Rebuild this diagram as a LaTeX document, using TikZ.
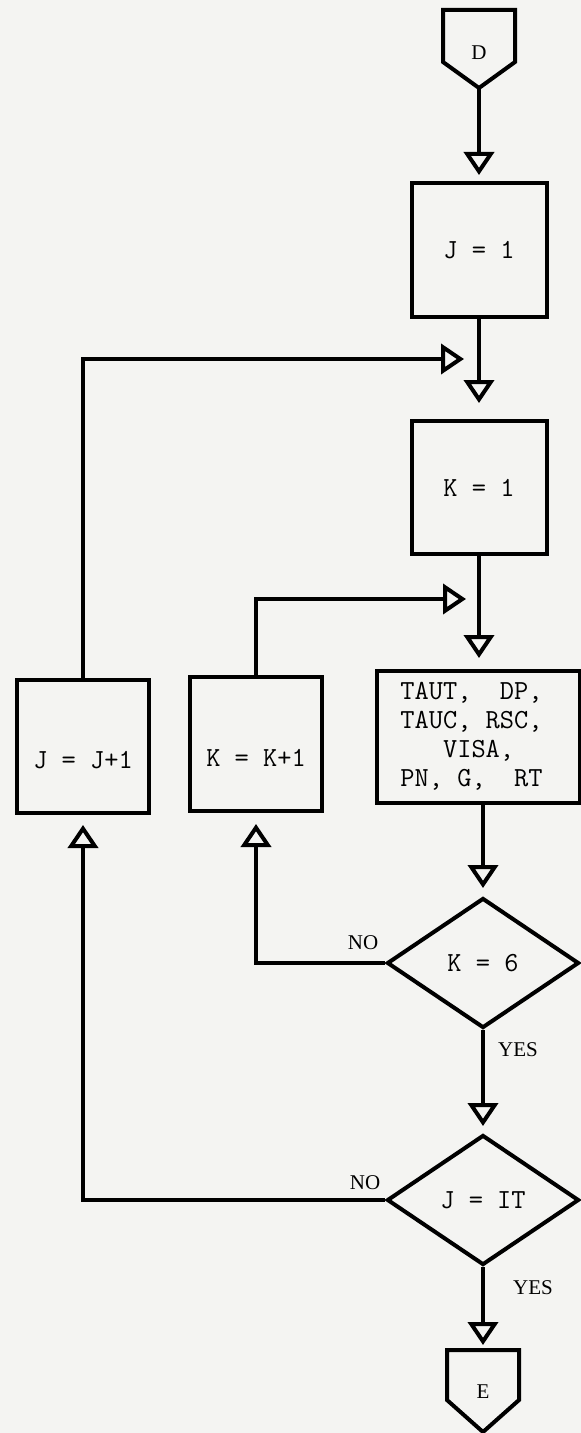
\documentclass[tikz,border=0pt]{standalone}
\usepackage{fontspec}
\setmainfont{Liberation Serif}
\usetikzlibrary{arrows.meta,shapes.geometric}
\definecolor{paper}{RGB}{244,244,242}
\begin{document}
\begin{tikzpicture}[x=0.5pt,y=-0.5pt,line width=2pt,
  flow/.style={-{Triangle[open,length=11.5pt,width=15pt]}},
  boxfont/.style={font=\ttfamily\fontsize{13.8}{14.5}\selectfont\addfontfeature{FakeBold=0.8}},
  proc/.style={draw,rectangle,inner sep=0pt,boxfont},
  cond/.style={draw,diamond,inner sep=0pt,minimum width=96pt,minimum height=65pt,boxfont},
  lbl/.style={font=\fontsize{10.5}{12}\selectfont,inner sep=0pt},
  conn/.style={font=\fontsize{10.5}{12}\selectfont,inner sep=0pt}]
\fill[paper] (0,0) rectangle (581,1433);
\useasboundingbox (0,0) rectangle (581,1433);

% off-page connector D
\draw (443,10) -- (515,10) -- (515,62) -- (479,88) -- (443,62) -- cycle;
\node[conn] (D) at (479,53) {D};
\coordinate (Dtip) at (479,88);

% process boxes
\node[proc,minimum width=67.5pt,minimum height=67pt] (J1) at (479,250) {J = 1};
\node[proc,minimum width=67.5pt,minimum height=66.5pt] (K1) at (479,487.5) {K = 1};
\node[proc,minimum width=101.5pt,minimum height=66pt] (C) at (478.5,737)
  {\begin{tabular}{@{}l@{\hspace{7pt}}}TAUT,\ \ DP,\\TAUC, RSC,\\\ \ \ VISA,\\PN, G,\ \ RT\end{tabular}};
\node[proc,minimum width=66pt,minimum height=66.5pt,text height=22pt,text depth=0pt] (JJ) at (83,746.5) {J = J+1};
\node[proc,minimum width=66pt,minimum height=67pt,text height=22pt,text depth=0pt] (KK) at (256,744) {K = K+1};

% decisions
\node[cond] (K6) at (483,963) {K = 6};
\node[cond] (JT) at (483,1200) {J = IT};

% off-page connector E
\draw (447,1350) -- (519,1350) -- (519,1400) -- (483,1432) -- (447,1400) -- cycle;
\node[conn] (E) at (483,1392) {E};
\coordinate (Etop) at (483,1350);

% labels
\node[lbl] (no1) at (363,943) {NO};
\node[lbl] (yes1) at (518,1050) {YES};
\node[lbl] (no2) at (365,1183) {NO};
\node[lbl] (yes2) at (533,1288) {YES};

% free ends of side arrows
\coordinate (jin) at (464,359);
\coordinate (kin) at (466,599);

% connectors
\draw[flow,shorten >=3pt] (Dtip) -- (J1.north);
\draw[flow,shorten >=8pt] (J1.south) -- (K1.north);
\draw[flow,shorten >=5.5pt] (K1.south) -- (K1.south |- C.north);
\draw[flow,shorten >=4pt] (C.south -| K6.north) -- (K6.north);
\draw[flow,shorten >=3.5pt] (K6.south) -- (JT.north);
\draw[flow,shorten >=2.5pt] (JT.south) -- (Etop);
\draw[flow] (JJ.north) |- (jin);
\draw[flow] (KK.north) |- (kin);
\draw[flow,shorten >=5.5pt] (K6.west) -| (KK.south);
\draw[flow,shorten >=5pt] (JT.west) -| (JJ.south);
\end{tikzpicture}
\end{document}
